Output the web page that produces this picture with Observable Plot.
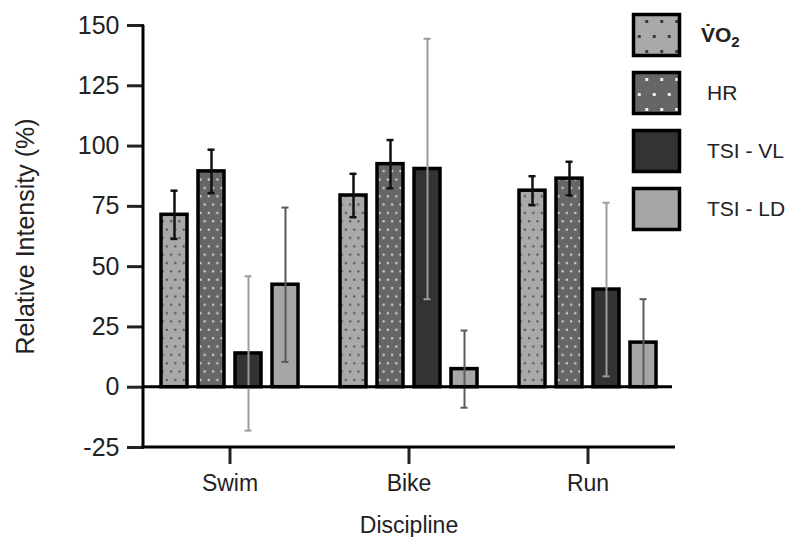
<!DOCTYPE html>
<html><head><meta charset="utf-8">
<script src="https://cdn.jsdelivr.net/npm/d3@7"></script>
<script src="https://cdn.jsdelivr.net/npm/@observablehq/plot@0.6"></script>
<style>
body{margin:0;background:#fff;}
#wrap{position:relative;width:789px;height:537px;font-family:"Liberation Sans",Arial,sans-serif;color:#222;}
#legend{position:absolute;left:630px;top:11px;}
</style></head><body><div id="wrap"></div>
<script>
const disciplines = ["Swim", "Bike", "Run"];
const seriesKeys = ["VO2", "HR", "TSI - VL", "TSI - LD"];
const vo2Mean = [71.5, 79.5, 81.5];
const vo2Sd = [10, 9, 6];
const hrMean = [89.5, 92.5, 86.5];
const hrSd = [9, 10, 7];
const vlMean = [14, 90.5, 40.5];
const vlSd = [32, 54, 36];
const ldMean = [42.5, 7.5, 18.5];
const ldSd = [32, 16, 18];
const yTicks = [-25, 0, 25, 50, 75, 100, 125, 150];
const yDomain = [-25, 150];

const means = {"VO2": vo2Mean, "HR": hrMean, "TSI - VL": vlMean, "TSI - LD": ldMean};
const sds = {"VO2": vo2Sd, "HR": hrSd, "TSI - VL": vlSd, "TSI - LD": ldSd};
const fills = {"VO2": "url(#pVO2)", "HR": "url(#pHR)", "TSI - VL": "#333333", "TSI - LD": "#a6a6a6"};
const errColors = {"VO2": "#111", "HR": "#111", "TSI - VL": "#9c9c9c", "TSI - LD": "#5a5a5a"};
const errWidths = {"VO2": 2.5, "HR": 2.5, "TSI - VL": 2, "TSI - LD": 2};

const rows = [];
disciplines.forEach((d, i) => seriesKeys.forEach(s => rows.push({discipline: d, series: s, mean: means[s][i], sd: sds[s][i]})));

const marks = [];
for (const s of seriesKeys) {
  const data = rows.filter(r => r.series === s);
  marks.push(Plot.barY(data, {fx: "discipline", x: "series", y: "mean", fill: fills[s], stroke: "#000", strokeWidth: 3.5, inset: 0}));
}
for (const s of seriesKeys) {
  const data = rows.filter(r => r.series === s);
  const opts = {fx: "discipline", x: "series", stroke: errColors[s], strokeWidth: errWidths[s]};
  marks.push(Plot.ruleX(data, {...opts, y1: d => d.mean - d.sd, y2: d => d.mean + d.sd}));
  marks.push(Plot.tickY(data, {...opts, y: d => d.mean + d.sd, insetLeft: 9.5, insetRight: 9.5}));
  marks.push(Plot.tickY(data, {...opts, y: d => d.mean - d.sd, insetLeft: 9.5, insetRight: 9.5}));
}
marks.push(Plot.axisY({ticks: yTicks, tickSize: 17, strokeWidth: 3, fontSize: 25, tickPadding: 8,
  tickFormat: d => String(d), label: "Relative Intensity (%)", labelArrow: "none",
  labelAnchor: "center", labelOffset: 128}));
marks.push(Plot.axisFx({anchor: "bottom", tickSize: 17, strokeWidth: 3, fontSize: 23, tickPadding: 10,
  label: "Discipline", labelArrow: "none", labelAnchor: "center", labelOffset: 85}));

const svg = Plot.plot({
  width: 789, height: 537,
  marginLeft: 143, marginRight: 114, marginTop: 25, marginBottom: 90,
  style: {fontFamily: '"Liberation Sans", Arial, sans-serif', fontSize: "25px", color: "#222", background: "#fff", overflow: "visible"},
  fx: {domain: disciplines, paddingInner: 0.0444, paddingOuter: 0},
  x: {domain: seriesKeys, paddingInner: 0.29, paddingOuter: 0.45, axis: null},
  y: {domain: yDomain},
  marks
});

// patterns
const defs = d3.select(svg).insert("defs", ":first-child");
function dotPattern(sel, id, bg, dot, w, h, size, ox, oy) {
  const p = sel.append("pattern").attr("id", id).attr("patternUnits", "userSpaceOnUse")
    .attr("width", w).attr("height", h).attr("x", ox).attr("y", oy);
  p.append("rect").attr("width", w).attr("height", h).attr("fill", bg);
  p.append("rect").attr("x", w / 4 - size / 2).attr("y", h / 4 - size / 2).attr("width", size).attr("height", size).attr("fill", dot);
  p.append("rect").attr("x", 3 * w / 4 - size / 2).attr("y", 3 * h / 4 - size / 2).attr("width", size).attr("height", size).attr("fill", dot);
}
dotPattern(defs, "pVO2", "#a9a9a9", "#4a4a4a", 8.4, 16.7, 2, 0, 0);
dotPattern(defs, "pHR", "#666666", "#e2e2e2", 8.4, 16.7, 2, 0, 0);

// axis lines through the library's scales
const ys = svg.scale("y"), fxs = svg.scale("fx");
const x0 = fxs.range[0], x1 = fxs.range[1];
const g = d3.select(svg).append("g").attr("stroke", "#000").attr("stroke-width", 3);
g.append("line").attr("x1", x0 - 1.5).attr("x2", x1).attr("y1", ys.apply(-25)).attr("y2", ys.apply(-25));
g.append("line").attr("x1", x0).attr("x2", x0).attr("y1", ys.apply(150)).attr("y2", ys.apply(-25));
g.append("line").attr("x1", x0).attr("x2", x1 - 3).attr("y1", ys.apply(0)).attr("y2", ys.apply(0));

const wrap = document.getElementById("wrap");
wrap.appendChild(svg);

// legend
const leg = d3.select(wrap).append("svg").attr("id", "legend").attr("width", 159).attr("height", 236)
  .style("font-family", '"Liberation Sans", Arial, sans-serif');
const ldefs = leg.append("defs");
dotPattern(ldefs, "lVO2", "#a9a9a9", "#3a3a3a", 15, 30, 3, 15.25 - 3.75 + 1.5, 9 - 7.5 + 1.5);
dotPattern(ldefs, "lHR", "#666666", "#eeeeee", 15, 30, 3, 15.25 - 3.75 + 1.5, 9 - 7.5 + 1.5);
const legFills = {"VO2": "url(#lVO2)", "HR": "url(#lHR)", "TSI - VL": "#333333", "TSI - LD": "#a6a6a6"};
seriesKeys.forEach((s, i) => {
  const item = leg.append("g").attr("transform", `translate(0,${i * 58})`);
  item.append("rect").attr("x", 3.5).attr("y", 3.5).attr("width", 46).attr("height", 41)
    .attr("fill", legFills[s]).attr("stroke", "#000").attr("stroke-width", 3.5);
  const t = item.append("text").attr("x", s === "VO2" ? 71 : 77).attr("y", 24).attr("dy", "0.35em")
    .attr("font-size", 21).attr("fill", "#222");
  if (s === "VO2") {
    t.attr("font-weight", "bold");
    t.append("tspan").text("V\u0307O");
    t.append("tspan").attr("font-size", 15).attr("dy", "0.3em").text("2");
  } else {
    t.text(s);
  }
});
</script></body></html>
